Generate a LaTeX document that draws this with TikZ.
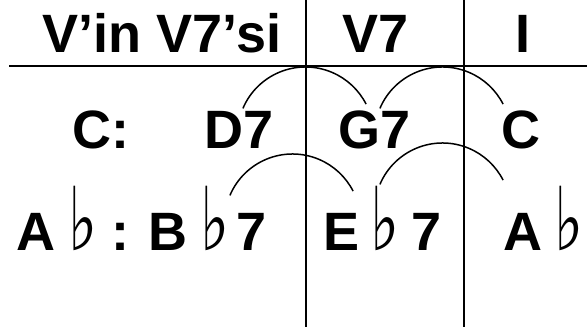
\documentclass[tikz,border=0pt]{standalone}
\usepackage{fontspec}
\usepackage{graphicx}
\setmainfont{Liberation Sans}
\newfontfamily\symfont{DejaVu Sans}
\newcommand{\flt}{\hspace{3pt}\makebox[17pt][c]{\scalebox{0.7}[1]{\symfont\fontsize{88}{88}\selectfont ♭}}}
\begin{document}
\begin{tikzpicture}[x=1pt,y=1pt,
  lbl/.style={font=\fontsize{54}{60}\selectfont\bfseries, inner sep=0pt, anchor=base},
  row/.style={font=\fontsize{54}{60}\selectfont\bfseries, inner sep=0pt, anchor=base west},
  rule/.style={line width=2pt},
  slur/.style={line width=1.5pt}]
\useasboundingbox (0,0) rectangle (587,332);
% header
\node[lbl] (h1) at (162,279) {V’in V7’si};
\node[lbl] (h2) at (376,279) {V7};
\node[lbl] (h3) at (523,279) {I};
% row 2
\node[lbl] (kC) at (101,183) {C:};
\node[lbl] (D7) at (239.5,183) {D7};
\node[lbl] (G7) at (374.5,183) {G7};
\node[lbl] (C) at (520.5,183) {C};
% row 3
\node[row] (kAb) at (16,81) {A\hspace{16pt}\flt\hspace{20pt}:};
\node[row] (Bb7) at (148,81) {B\hspace{16.5pt}\flt\hspace{13pt}7};
\node[row] (Eb7) at (323,81) {E\hspace{14pt}\flt\hspace{18.5pt}7};
\node[row] (Ab) at (503,81) {A\hspace{15.5pt}\flt};
% rules
\coordinate (hl) at (9,266);
\coordinate (hr) at (587,266);
\draw[rule] (hl) -- (hr);
\coordinate (v1t) at (306,332);
\coordinate (v1b) at (306,5);
\coordinate (v2t) at (464,332);
\coordinate (v2b) at (464,5);
\draw[rule] (v1t) -- (v1b);
\draw[rule] (v2t) -- (v2b);
% slurs
\coordinate (u1) at (305.5,197);
\coordinate (u2) at (442.5,197);
\coordinate (l1) at (292.5,110);
\coordinate (l2) at (442.5,121);
\foreach \c in {u1,u2,l1,l2}
  \draw[slur] ([shift={(157:68)}]\c) arc[start angle=157,end angle=27,radius=68];
\end{tikzpicture}
\end{document}
